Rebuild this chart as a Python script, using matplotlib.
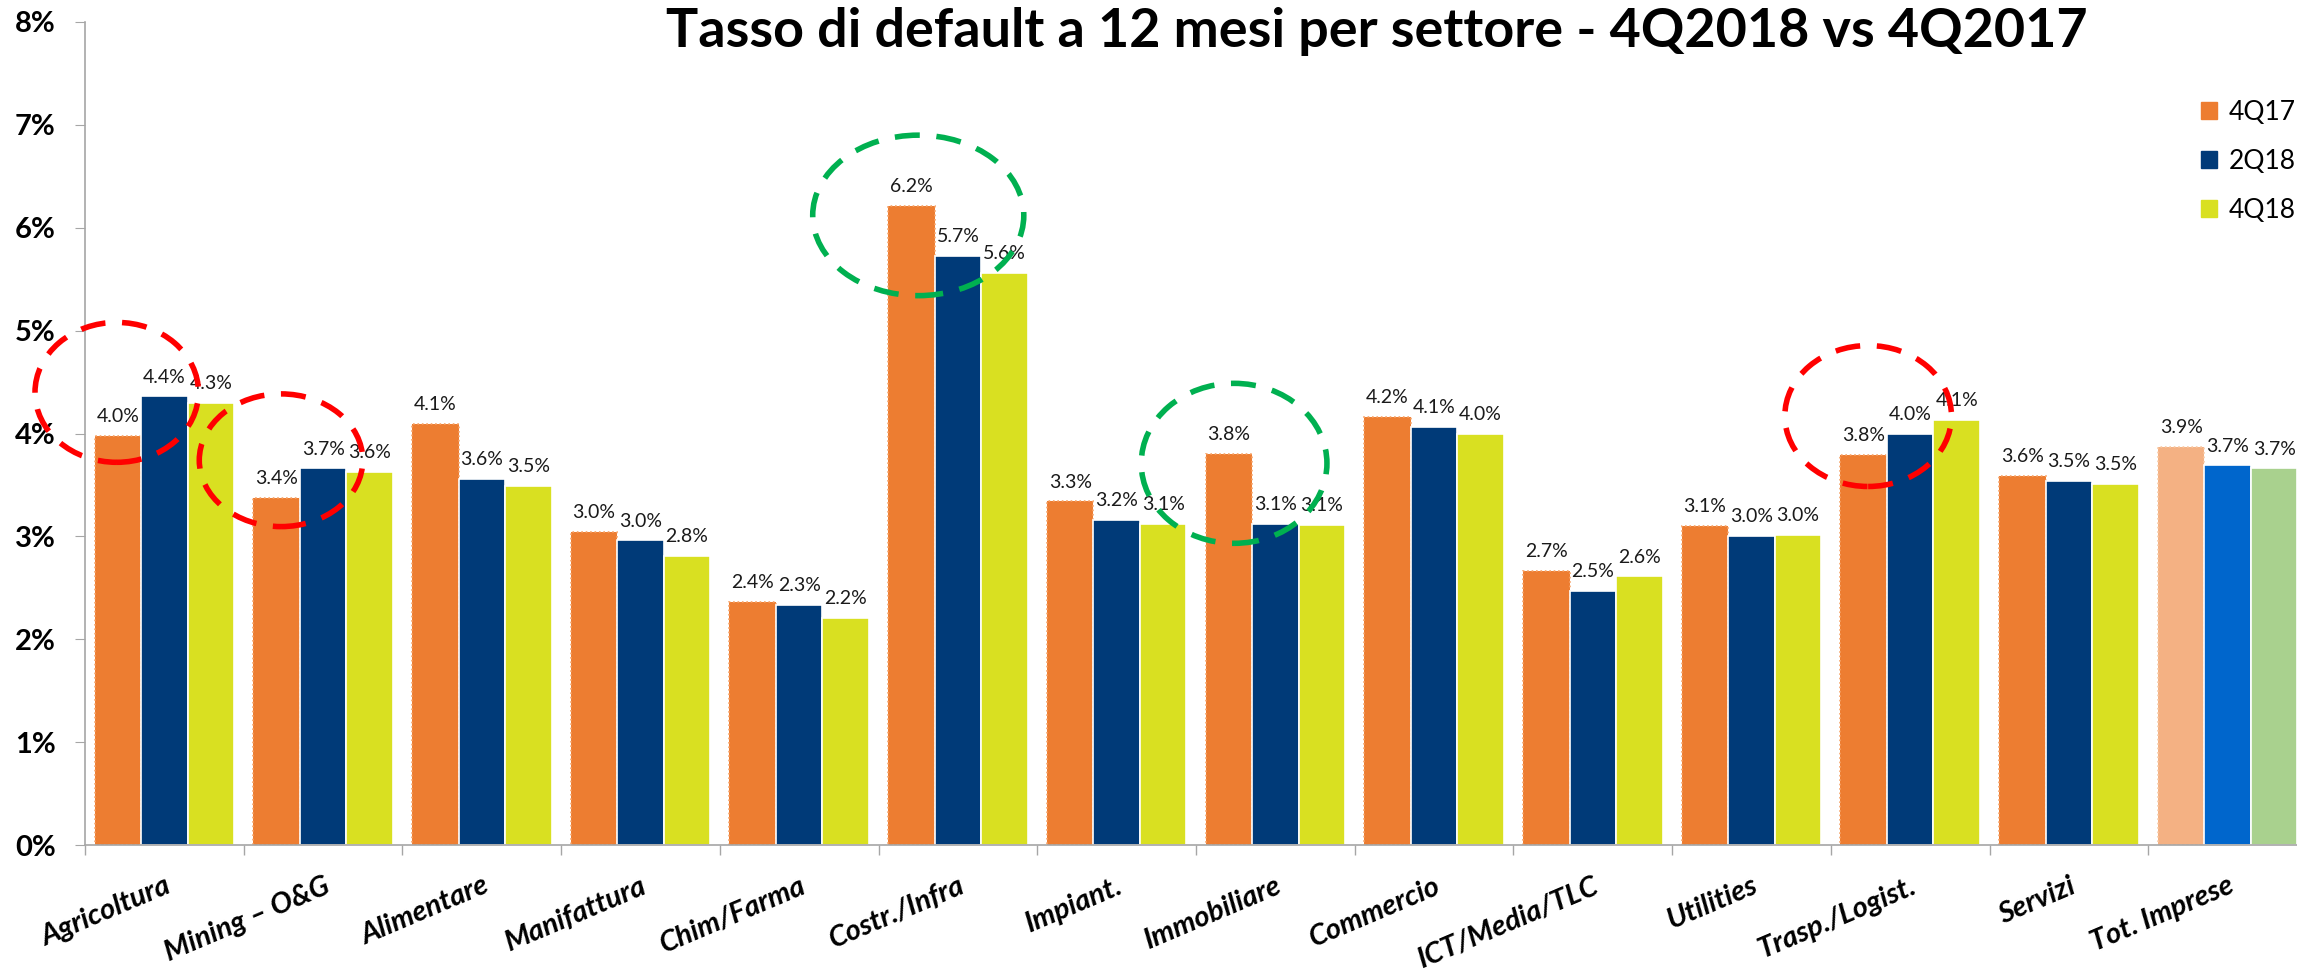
import matplotlib
matplotlib.use("Agg")
import matplotlib.pyplot as plt
import numpy as np
from matplotlib.patches import Ellipse, Patch
from matplotlib.ticker import FuncFormatter, FixedLocator

plt.rcParams['font.family'] = ['Lato', 'DejaVu Sans']

categories = ["Agricoltura", "Mining – O&G", "Alimentare", "Manifattura", "Chim/Farma",
              "Costr./Infra", "Impiant.", "Immobiliare", "Commercio", "ICT/Media/TLC",
              "Utilities", "Trasp./Logist.", "Servizi", "Tot. Imprese"]
series_names = ["4Q17", "2Q18", "4Q18"]
v_4q17 = [3.98, 3.37, 4.09, 3.04, 2.36, 6.21, 3.34, 3.80, 4.16, 2.66, 3.10, 3.79, 3.59, 3.87]
v_2q18 = [4.36, 3.66, 3.56, 2.96, 2.33, 5.73, 3.16, 3.12, 4.06, 2.47, 3.00, 4.00, 3.54, 3.69]
v_4q18 = [4.30, 3.63, 3.49, 2.81, 2.21, 5.56, 3.12, 3.11, 4.00, 2.61, 3.01, 4.13, 3.51, 3.66]
y_ticks = [0, 1, 2, 3, 4, 5, 6, 7, 8]
title = "Tasso di default a 12 mesi per settore - 4Q2018 vs 4Q2017"

base_colors = ["#ED7D31", "#003A78", "#D9E021"]
total_colors = ["#F4B183", "#0066CC", "#A9D18E"]
edge_colors = ["#F6A46A", "white", "white"]

# highlight circles: (group index, x offset, y centre, width, height, colour)
highlights = [
    (0, -0.30, 4.40, 1.03, 1.36, "#FF0000"),
    (1, -0.265, 3.74, 1.03, 1.29, "#FF0000"),
    (5, -0.25, 6.12, 1.33, 1.56, "#00B050"),
    (7, -0.26, 3.71, 1.17, 1.555, "#00B050"),
    (11, -0.265, 4.17, 1.05, 1.37, "#FF0000"),
]

W, H = 2297, 973
fig = plt.figure(figsize=(W / 100, H / 100), dpi=100)
x0, x1 = 85, 2307
y0, y1 = 845, 22
ax = fig.add_axes([x0 / W, 1 - y0 / H, (x1 - x0) / W, (y0 - y1) / H])

n = len(categories)
idx = np.arange(n)
bw = 0.293
series = [v_4q17, v_2q18, v_4q18]
for s, vals in enumerate(series):
    cols = [base_colors[s]] * (n - 1) + [total_colors[s]]
    xs = idx + (s - 1) * bw
    ls = ':' if s == 0 else '-'
    ecols = [edge_colors[s]] * (n - 1) + (["#F8C9A4"] if s == 0 else ["white"])
    ax.bar(xs, vals, width=bw, color=cols, edgecolor=ecols, linewidth=1.2,
           linestyle=ls, zorder=2)
    for x, v in zip(xs, vals):
        ax.annotate(f"{v:.1f}%", (x, v), xytext=(0, 10), textcoords="offset points",
                    ha="center", va="baseline", fontsize=14, color="#1a1a1a", zorder=4)

for gi, dx, yc, w, h, c in highlights:
    e = Ellipse((gi + dx, yc), w, h, fill=False, edgecolor=c, linewidth=4,
                linestyle=(0, (4.5, 3)), clip_on=False, zorder=5)
    ax.add_patch(e)

ax.set_xlim(-0.5, n - 0.5)
ax.set_ylim(0, 8)
ax.set_yticks(y_ticks)
ax.yaxis.set_major_formatter(FuncFormatter(lambda v, p: f"{v:.0f}%"))
ax.tick_params(axis="y", labelsize=21, length=7, color="#A6A6A6", pad=14)
for lab in ax.get_yticklabels():
    lab.set_fontweight("bold")

ax.set_xticks(idx)
ax.set_xticklabels(categories, rotation=23, ha="right", rotation_mode="anchor",
                   fontsize=21, fontweight="bold", fontstyle="italic")
ax.tick_params(axis="x", which="major", length=0, pad=20)
ax.xaxis.set_minor_locator(FixedLocator(np.arange(n + 1) - 0.5))
ax.tick_params(axis="x", which="minor", length=7, color="#A6A6A6", width=1)

for sp in ["top", "right"]:
    ax.spines[sp].set_visible(False)
for sp in ["left", "bottom"]:
    ax.spines[sp].set_color("#A6A6A6")
    ax.spines[sp].set_linewidth(1.2)

fig.text(1377 / W, 1 - 32 / H, title, ha="center", va="center", fontsize=38.8,
         fontweight="bold", color="black")

handles = [Patch(facecolor=c, edgecolor=c) for c in base_colors]
fig.legend(handles, series_names, loc="upper left",
           bbox_to_anchor=(2201 / W, 1 - 100 / H), frameon=False, fontsize=19,
           handlelength=0.6, handleheight=0.6, handletextpad=0.45, labelspacing=0.9,
           borderpad=0, borderaxespad=0)

fig.savefig("out.png", dpi=100)
